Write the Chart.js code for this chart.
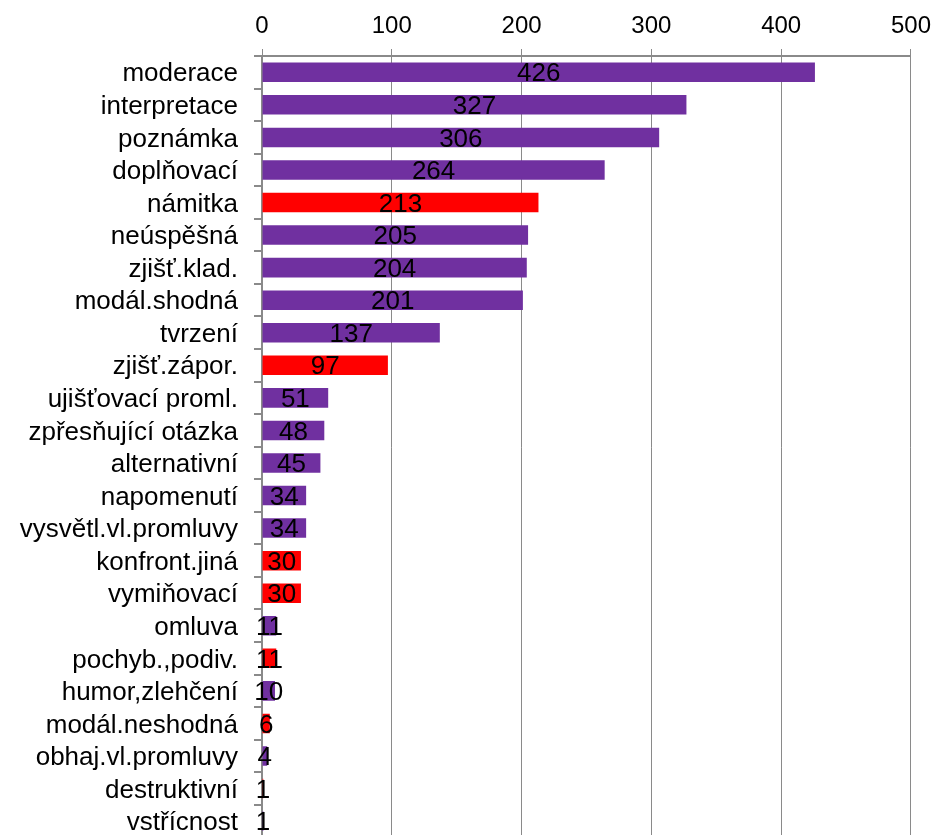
<!DOCTYPE html>
<html>
<head>
<meta charset="utf-8">
<script src="https://cdn.jsdelivr.net/npm/chart.js@4/dist/chart.umd.min.js"></script>
<style>
  html, body { margin: 0; padding: 0; background: #fff; overflow: hidden; width: 939px; height: 835px; }
  #wrap { position: absolute; left: 0; top: 0; width: 939px; height: 869px; }
</style>
</head>
<body>
<div id="wrap"><canvas id="c" width="939" height="869"></canvas></div>
<script>
const categories = [
  "moderace", "interpretace", "poznámka", "doplňovací", "námitka", "neúspěšná",
  "zjišť.klad.", "modál.shodná", "tvrzení", "zjišť.zápor.", "ujišťovací proml.",
  "zpřesňující otázka", "alternativní", "napomenutí", "vysvětl.vl.promluvy",
  "konfront.jiná", "vymiňovací", "omluva", "pochyb.,podiv.", "humor,zlehčení",
  "modál.neshodná", "obhaj.vl.promluvy", "destruktivní", "vstřícnost"
];
const values = [426, 327, 306, 264, 213, 205, 204, 201, 137, 97, 51, 48, 45, 34, 34, 30, 30, 11, 11, 10, 6, 4, 1, 1];
const redCategories = ["námitka", "zjišť.zápor.", "konfront.jiná", "vymiňovací", "pochyb.,podiv.", "modál.neshodná", "destruktivní"];
const xTicks = [0, 100, 200, 300, 400, 500];

const PURPLE = '#7030A0';
const RED = '#FF0000';
const GRID = '#8a8a8a';
const FONT = "'Liberation Sans', Arial, sans-serif";

const barColors = categories.map(c => redCategories.includes(c) ? RED : PURPLE);

const dataLabels = {
  id: 'dataLabels',
  afterDatasetsDraw(chart) {
    const ctx = chart.ctx;
    const meta = chart.getDatasetMeta(0);
    ctx.save();
    ctx.font = '26px ' + FONT;
    ctx.fillStyle = '#000';
    ctx.textAlign = 'center';
    ctx.textBaseline = 'middle';
    meta.data.forEach((el, i) => {
      const cx = (el.x + el.base) / 2;
      ctx.fillText(String(values[i]), cx, el.y + 2);
    });
    ctx.restore();
  }
};

new Chart(document.getElementById('c'), {
  type: 'bar',
  data: {
    labels: categories,
    datasets: [{
      data: values,
      backgroundColor: barColors,
      borderWidth: 0,
      barPercentage: 0.6,
      categoryPercentage: 1.0
    }]
  },
  options: {
    indexAxis: 'y',
    responsive: false,
    animation: false,
    layout: { padding: { left: 0, right: 27, top: 0, bottom: 11 } },
    plugins: { legend: { display: false }, tooltip: { enabled: false } },
    scales: {
      x: {
        position: 'top',
        min: 0, max: 500,
        afterBuildTicks(scale) { scale.ticks = xTicks.map(v => ({ value: v })); },
        afterFit(scale) { scale.height = 56; },
        grid: { color: GRID, lineWidth: 1, tickLength: 7, drawTicks: true },
        border: { color: GRID, width: 2 },
        ticks: { color: '#000', font: { size: 24, family: FONT }, padding: 8, maxRotation: 0 }
      },
      y: {
        afterFit(scale) { scale.width = 262; },
        grid: { offset: true, drawOnChartArea: false, color: GRID, tickLength: 8, lineWidth: 2 },
        border: { color: GRID, width: 2 },
        ticks: { color: '#000', font: { size: 26, family: FONT }, padding: 16, autoSkip: false, labelOffset: 2 }
      }
    }
  },
  plugins: [dataLabels]
});
</script>
</body>
</html>
